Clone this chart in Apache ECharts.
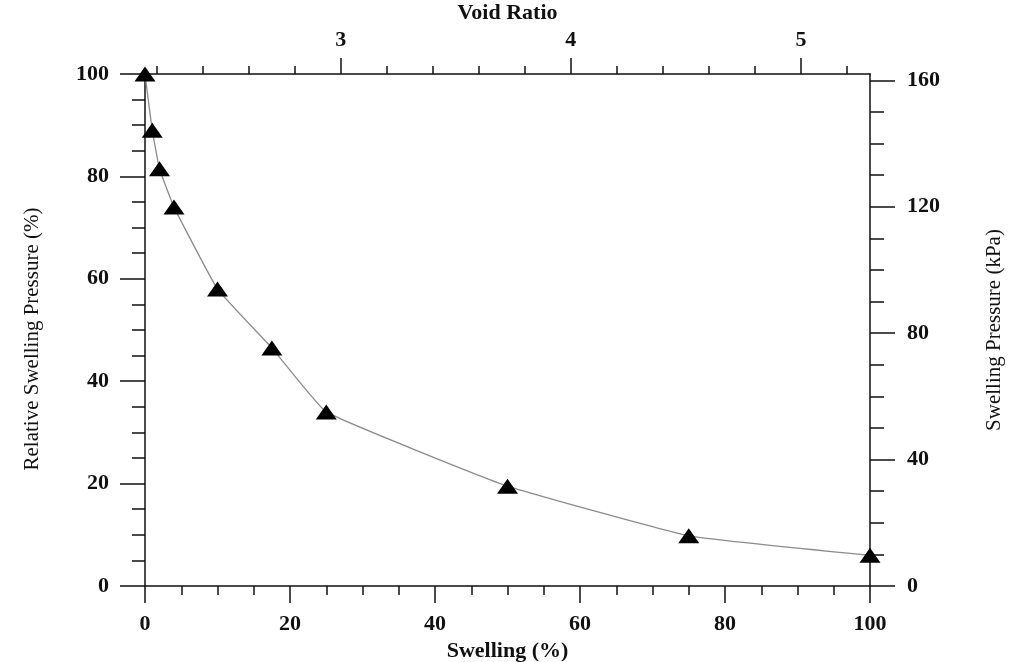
<!DOCTYPE html>
<html>
<head>
<meta charset="utf-8">
<title>Swelling vs. Swelling Pressure</title>
<script src="https://cdn.jsdelivr.net/npm/echarts@6/dist/echarts.min.js"></script>
<style>
  html, body { margin: 0; padding: 0; background: #ffffff; }
  #chart { width: 1013px; height: 662px; }
</style>
</head>
<body>
<div id="chart"></div>
<script>
// Measured swelling (%) and the relative swelling pressure (%) at each step
const swelling = [0, 1, 2, 4, 10, 17.5, 25, 50, 75, 100];
const relativePressure = [100, 89, 81.5, 74, 58, 46.5, 34, 19.5, 9.8, 6];

// Tick positions
const voidRatioLabels = [3, 4, 5];
const voidRatioTicks = [2.2, 2.4, 2.6, 2.8, 3.0, 3.2, 3.4, 3.6, 3.8, 4.0, 4.2, 4.4, 4.6, 4.8, 5.0, 5.2];
const pressureTicks = [0, 40, 80, 120, 160];
const pressureMinorTicks = [10, 20, 30, 50, 60, 70, 90, 100, 110, 130, 140, 150];

// Initial void ratio (at zero swelling) and swelling pressure at 100 %
const E0 = 2.15;
const P0 = 162;

const INK = '#111111';
const FONT = '"Liberation Serif", "Times New Roman", serif';
const tickFont = { color: INK, fontFamily: FONT, fontWeight: 'bold', fontSize: 22 };
const tickLine = { color: INK, width: 1.5 };
const axisLine = { show: true, onZero: false, lineStyle: { color: INK, width: 1.5 } };
const noLine = { show: false, onZero: false };

const chart = echarts.init(document.getElementById('chart'), null, { renderer: 'canvas' });

chart.setOption({
  backgroundColor: '#ffffff',
  animation: false,
  grid: { left: 145, right: 143, top: 74, bottom: 76, containLabel: false, outerBoundsMode: 'none' },
  xAxis: [
    {
      // Swelling (%)
      type: 'value', position: 'bottom', min: 0, max: 100, interval: 20,
      axisLine: axisLine,
      axisTick: { show: true, inside: false, length: 17, lineStyle: tickLine },
      minorTick: { show: true, splitNumber: 4, length: 9, lineStyle: tickLine },
      axisLabel: Object.assign({ margin: 27 }, tickFont),
      splitLine: { show: false },
      name: 'Swelling (%)', nameLocation: 'middle', nameGap: 51,
      nameTextStyle: { color: INK, fontFamily: FONT, fontWeight: 'bold', fontSize: 22 }
    },
    {
      // Void ratio, minor ticks and the top frame line
      type: 'value', position: 'top', min: E0, max: 2 * E0 + 1,
      axisLine: axisLine,
      axisTick: { show: true, inside: false, length: 8, customValues: voidRatioTicks, lineStyle: tickLine },
      axisLabel: { show: false },
      splitLine: { show: false }
    },
    {
      // Void ratio, major ticks and labels
      type: 'value', position: 'top', min: E0, max: 2 * E0 + 1,
      axisLine: noLine,
      axisTick: { show: true, inside: false, length: 16, customValues: voidRatioLabels, lineStyle: tickLine },
      axisLabel: Object.assign({ margin: 23, customValues: voidRatioLabels }, tickFont),
      splitLine: { show: false },
      name: 'Void Ratio', nameLocation: 'middle', nameGap: 47,
      nameTextStyle: { color: INK, fontFamily: FONT, fontWeight: 'bold', fontSize: 22 }
    }
  ],
  yAxis: [
    {
      // Relative swelling pressure (%)
      type: 'value', position: 'left', min: 0, max: 100, interval: 20,
      axisLine: axisLine,
      axisTick: { show: true, inside: false, length: 25, lineStyle: tickLine },
      minorTick: { show: true, splitNumber: 4, length: 13, lineStyle: tickLine },
      axisLabel: Object.assign({ margin: 36 }, tickFont),
      splitLine: { show: false },
      name: 'Relative Swelling Pressure (%)', nameLocation: 'middle', nameRotate: 90, nameGap: 102,
      nameTextStyle: { color: INK, fontFamily: FONT, fontSize: 21, padding: [0, 18, 0, 0] }
    },
    {
      // Swelling pressure (kPa), major ticks, labels and the right frame line
      type: 'value', position: 'right', min: 0, max: P0,
      axisLine: axisLine,
      axisTick: { show: true, inside: false, length: 25, customValues: pressureTicks, lineStyle: tickLine },
      axisLabel: Object.assign({ margin: 37, customValues: pressureTicks }, tickFont),
      splitLine: { show: false },
      name: 'Swelling Pressure (kPa)', nameLocation: 'middle', nameRotate: 90, nameGap: 114,
      nameTextStyle: { color: INK, fontFamily: FONT, fontSize: 21 }
    },
    {
      // Swelling pressure (kPa), minor ticks
      type: 'value', position: 'right', min: 0, max: P0,
      axisLine: noLine,
      axisTick: { show: true, inside: false, length: 14, customValues: pressureMinorTicks, lineStyle: tickLine },
      axisLabel: { show: false },
      splitLine: { show: false }
    }
  ],
  series: [
    {
      type: 'line',
      xAxisIndex: 0,
      yAxisIndex: 0,
      data: swelling.map((s, i) => [s, relativePressure[i]]),
      smooth: 0.1,
      clip: false,
      symbol: 'triangle',
      symbolSize: [21, 15],
      itemStyle: { color: '#000000' },
      lineStyle: { color: '#8c8c8c', width: 1.3 },
      z: 5
    }
  ]
});
</script>
</body>
</html>
